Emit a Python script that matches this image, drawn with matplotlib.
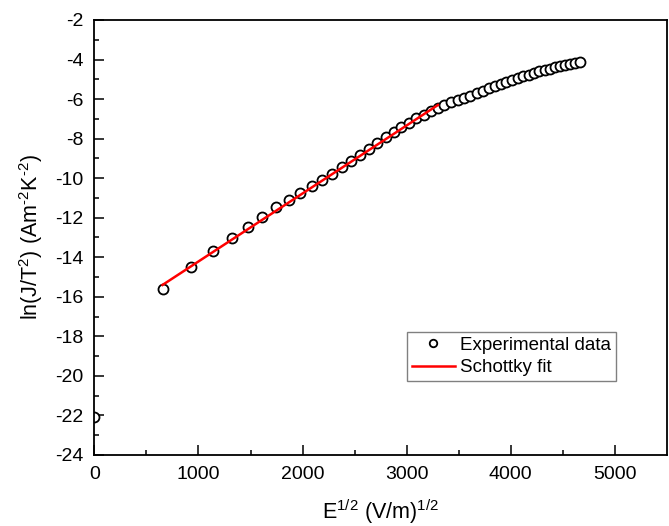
import numpy as np
import matplotlib.pyplot as plt

plt.rcParams['font.family'] = 'Liberation Sans'
plt.rcParams['mathtext.fontset'] = 'custom'
plt.rcParams['mathtext.rm'] = 'Liberation Sans'
plt.rcParams['mathtext.it'] = 'Liberation Sans'
plt.rcParams['mathtext.default'] = 'regular'
plt.rcParams['axes.unicode_minus'] = False

e_sqrt = [0, 660, 933, 1142, 1319, 1475, 1615, 1745, 1865, 1979, 2086,
          2187, 2285, 2378, 2468, 2554, 2638, 2719, 2798, 2875, 2950,
          3022, 3093, 3163, 3231, 3298, 3363, 3427, 3490, 3552, 3612,
          3672, 3731, 3789, 3846, 3902, 3957, 4012, 4066, 4119, 4171,
          4223, 4275, 4325, 4375, 4425, 4473, 4522, 4569, 4617, 4664]
ln_jt2 = [-22.07, -15.62, -14.50, -13.67, -13.01, -12.45, -11.94, -11.48, -11.11, -10.77, -10.42,
          -10.09, -9.78, -9.46, -9.15, -8.83, -8.51, -8.20, -7.91, -7.65, -7.40,
          -7.19, -6.98, -6.78, -6.60, -6.43, -6.29, -6.16, -6.05, -5.94, -5.82,
          -5.70, -5.58, -5.46, -5.35, -5.24, -5.13, -5.03, -4.94, -4.85, -4.76,
          -4.68, -4.60, -4.53, -4.46, -4.40, -4.34, -4.28, -4.22, -4.17, -4.12]

# Schottky fit line endpoints
fit_x = [655, 3300]
fit_y = [-15.40, -6.30]

fig = plt.figure(figsize=(6.69, 5.26), dpi=100)
ax = fig.add_axes([0.141, 0.135, 0.856, 0.827])

ax.plot(e_sqrt, ln_jt2, 'o', mfc='white', mec='black', ms=7.2, mew=1.3,
        label='Experimental data', zorder=2)
ax.plot(fit_x, fit_y, color='#ff0000', lw=1.8, label='Schottky fit', zorder=3)

ax.set_xlim(0, 5500)
ax.set_ylim(-24, -2)
ax.set_xticks(np.arange(0, 5001, 1000))
ax.set_xticks(np.arange(500, 5500, 1000), minor=True)
ax.set_yticks(np.arange(-24, -1, 2))
ax.set_yticks(np.arange(-23, -2, 2), minor=True)

ax.tick_params(which='both', direction='in', top=False, right=False,
               labelsize=14, width=1.1)
ax.tick_params(which='major', length=7, pad=8)
ax.tick_params(which='minor', length=3.5)
for s in ax.spines.values():
    s.set_linewidth(1.3)

ax.set_xlabel('E$^{1/2}$ (V/m)$^{1/2}$', fontsize=15.5, labelpad=10)
ax.set_ylabel(r'ln(J/T$^{2}$) (Am$^{\text{-2}}$K$^{\text{-2}}$)', fontsize=15.5, labelpad=7)

leg = ax.legend(loc='upper left', bbox_to_anchor=(0.546, 0.283), borderaxespad=0,
                fontsize=13.5, fancybox=False, edgecolor='#808080', framealpha=1,
                markerscale=0.75, handlelength=2.3, handletextpad=0.3,
                borderpad=0.25, labelspacing=0.3)
leg.get_frame().set_linewidth(1.0)

fig.savefig('out.png', dpi=100)
